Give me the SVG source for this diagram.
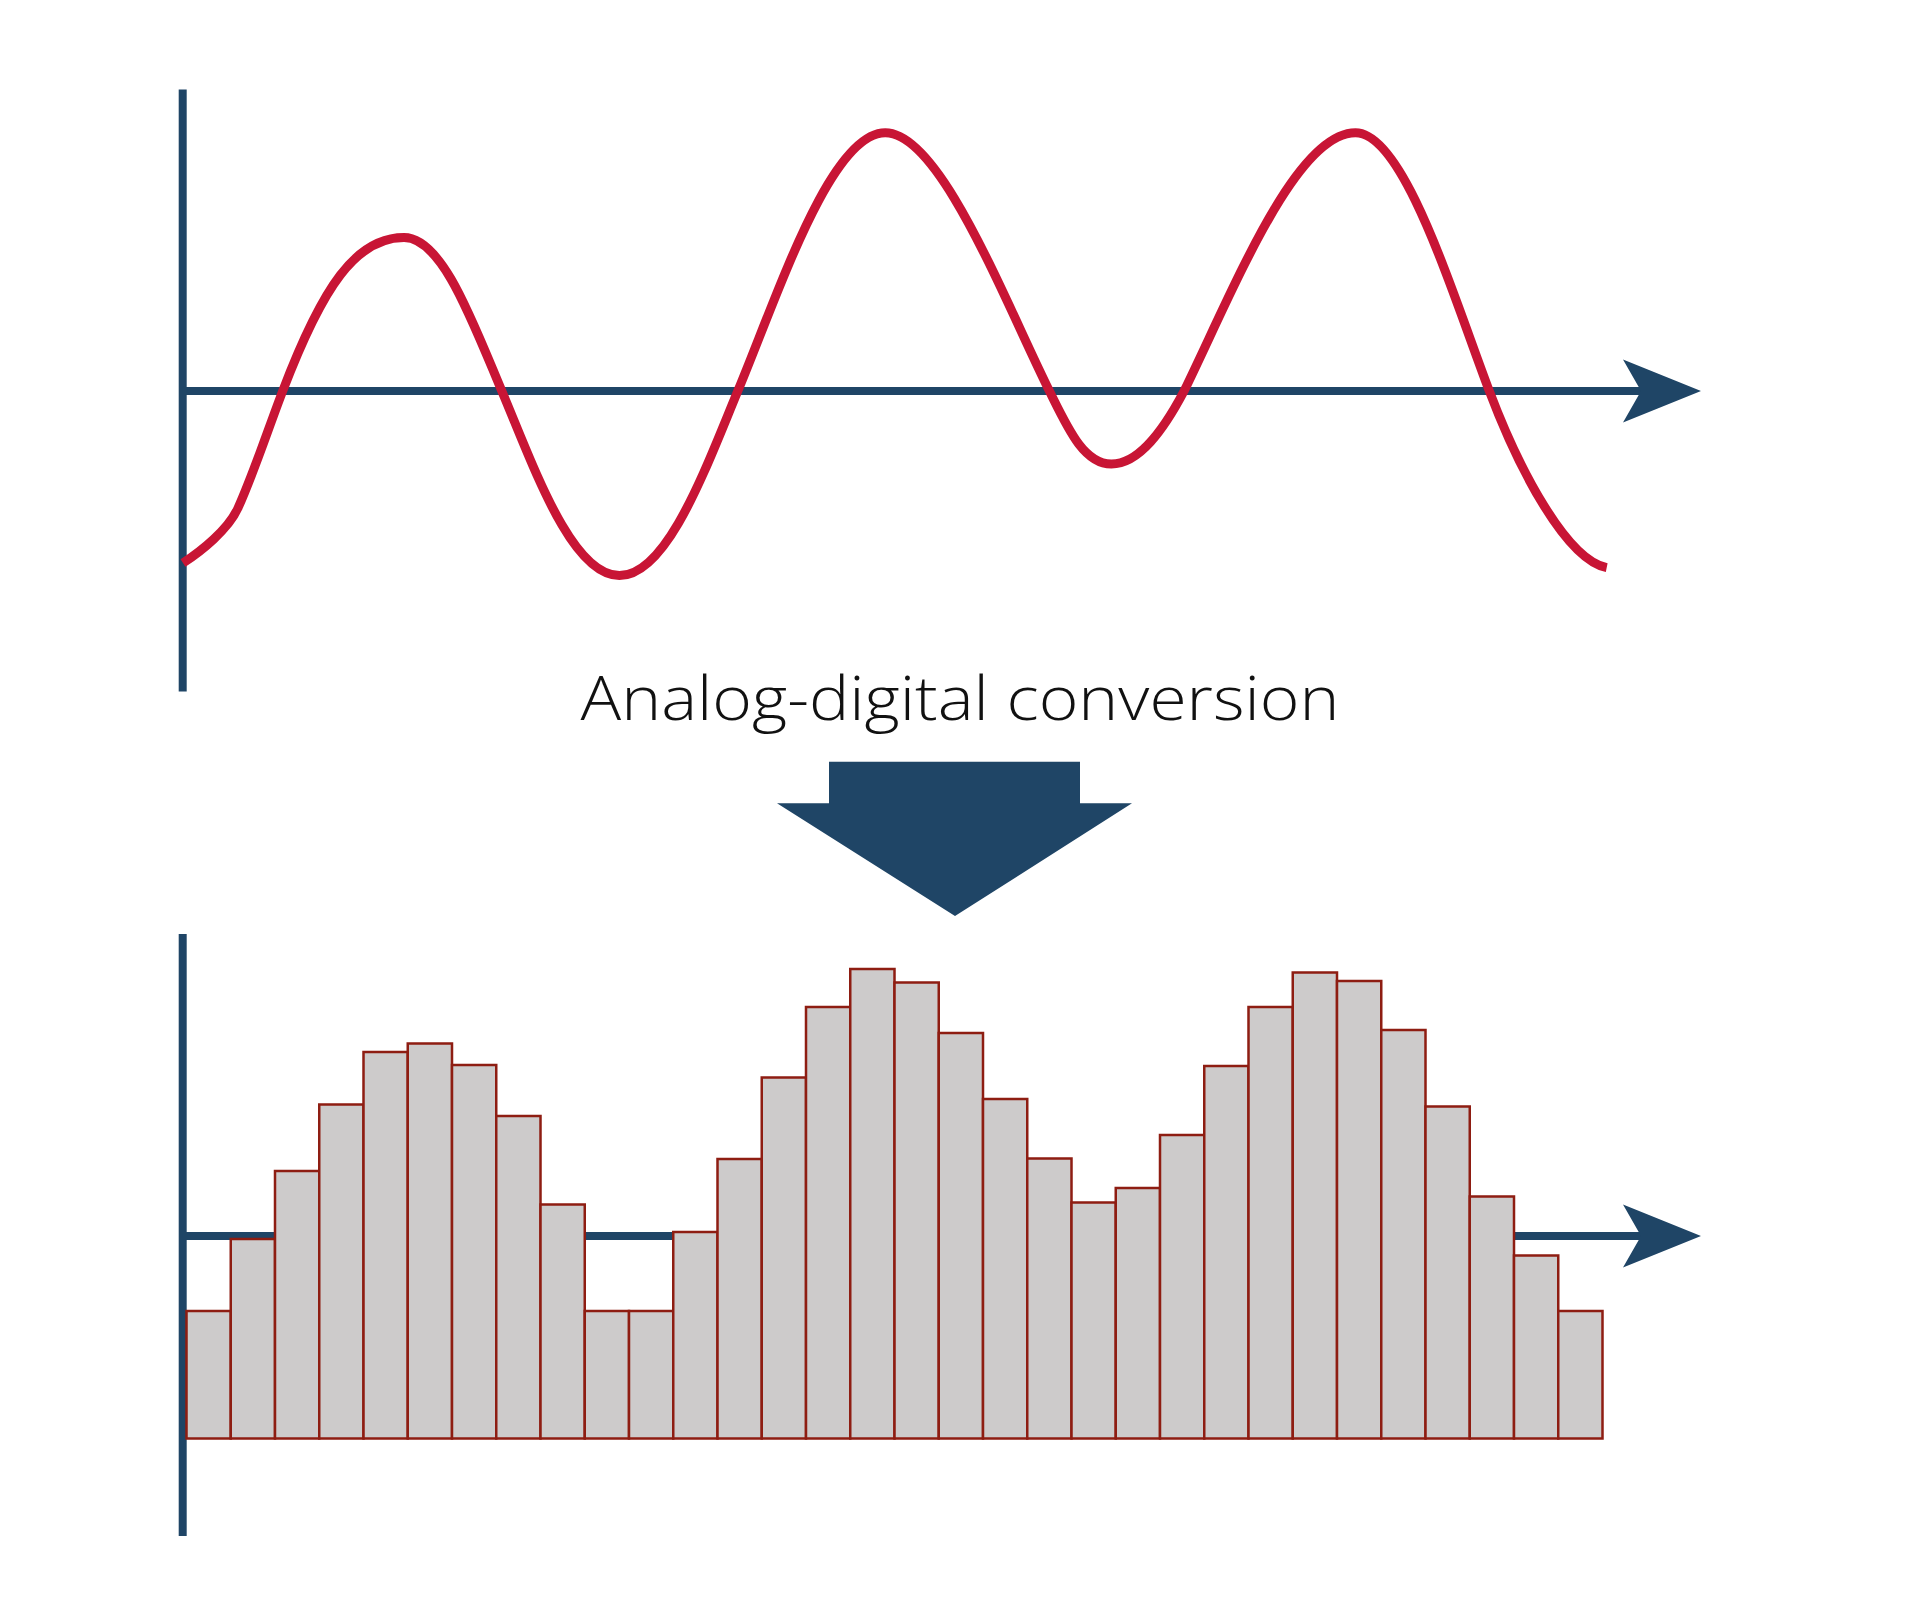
<svg xmlns="http://www.w3.org/2000/svg" width="1920" height="1604" viewBox="0 0 1920 1604">
<style>
.axis{stroke:#1F4566;stroke-width:8;fill:none}
.head{fill:#1F4566}
.wave{stroke:#C81535;stroke-width:9;fill:none;stroke-linejoin:round}
.bar{fill:#CDCBCB;stroke:#8E1D12;stroke-width:2.5}
.label{font-family:"Open Sans","Lato","Liberation Sans",sans-serif;font-weight:300;font-size:60px;fill:#111}
</style>
<rect width="1920" height="1604" fill="#FFFFFF"/>
<g id="connectors">
  <g id="top-axes">
    <line class="axis" x1="182.7" y1="89.5" x2="182.7" y2="691.5"/>
    <line class="axis" x1="182.7" y1="391" x2="1642" y2="391"/>
    <polygon class="head" points="1701,391 1623,359.5 1641,391 1623,422.5"/>
  </g>
  <g id="bottom-axes">
    <line class="axis" x1="182.7" y1="934" x2="182.7" y2="1536"/>
    <line class="axis" x1="182.7" y1="1236" x2="1642" y2="1236"/>
    <polygon class="head" points="1701,1236 1623,1204.5 1641,1236 1623,1267.5"/>
  </g>
</g>
<g id="analog-signal">
  <path class="wave" d="M183,563 C201,551.3 228,530 238,508 C253,475 267.7,430.3 282.7,391 C322.7,286.2 356,237.6 404,237.6 C442,237.6 471.8,319.9 501.8,391 C533.8,466.8 571.4,575.6 619.4,575.6 C667.4,575.6 705.8,467.8 737.8,391 C777.8,295 830.3,132.8 885.3,132.8 C940.3,132.8 1004.4,300.5 1049.4,391 C1067.4,427.2 1083.4,464 1111.4,464 C1139.4,464 1164.1,429 1184.1,391 C1234.1,288.5 1295.5,132.8 1355.5,132.8 C1403.5,132.8 1451.3,290.3 1489.3,391 C1519.3,470.5 1566.7,559.7 1606.7,567.7"/>
</g>
<g id="conversion-label">
  <text class="label" x="960" y="720" text-anchor="middle" textLength="759" lengthAdjust="spacingAndGlyphs">Analog-digital conversion</text>
</g>
<g id="conversion-arrow">
  <polygon fill="#1F4566" points="829,761.7 1080,761.7 1080,803.3 1132,803.3 955,916 777,803.3 829,803.3"/>
</g>
<g id="digital-signal">
  <rect class="bar" x="186.5" y="1311" width="44.25" height="127.5"/>
  <rect class="bar" x="230.75" y="1239" width="44.25" height="199.5"/>
  <rect class="bar" x="275" y="1171" width="44.25" height="267.5"/>
  <rect class="bar" x="319.25" y="1104.5" width="44.25" height="334"/>
  <rect class="bar" x="363.5" y="1052" width="44.25" height="386.5"/>
  <rect class="bar" x="407.75" y="1043.5" width="44.25" height="395"/>
  <rect class="bar" x="452" y="1065" width="44.25" height="373.5"/>
  <rect class="bar" x="496.25" y="1116" width="44.25" height="322.5"/>
  <rect class="bar" x="540.5" y="1204.5" width="44.25" height="234"/>
  <rect class="bar" x="584.75" y="1311" width="44.25" height="127.5"/>
  <rect class="bar" x="629" y="1311" width="44.25" height="127.5"/>
  <rect class="bar" x="673.25" y="1232" width="44.25" height="206.5"/>
  <rect class="bar" x="717.5" y="1159" width="44.25" height="279.5"/>
  <rect class="bar" x="761.75" y="1077.5" width="44.25" height="361"/>
  <rect class="bar" x="806" y="1007" width="44.25" height="431.5"/>
  <rect class="bar" x="850.25" y="969" width="44.25" height="469.5"/>
  <rect class="bar" x="894.5" y="982.5" width="44.25" height="456"/>
  <rect class="bar" x="938.75" y="1033" width="44.25" height="405.5"/>
  <rect class="bar" x="983" y="1099" width="44.25" height="339.5"/>
  <rect class="bar" x="1027.25" y="1158.5" width="44.25" height="280"/>
  <rect class="bar" x="1071.5" y="1202.5" width="44.25" height="236"/>
  <rect class="bar" x="1115.75" y="1188" width="44.25" height="250.5"/>
  <rect class="bar" x="1160" y="1135" width="44.25" height="303.5"/>
  <rect class="bar" x="1204.25" y="1066" width="44.25" height="372.5"/>
  <rect class="bar" x="1248.5" y="1007" width="44.25" height="431.5"/>
  <rect class="bar" x="1292.75" y="972.5" width="44.25" height="466"/>
  <rect class="bar" x="1337" y="981" width="44.25" height="457.5"/>
  <rect class="bar" x="1381.25" y="1030" width="44.25" height="408.5"/>
  <rect class="bar" x="1425.5" y="1106.5" width="44.25" height="332"/>
  <rect class="bar" x="1469.75" y="1196.5" width="44.25" height="242"/>
  <rect class="bar" x="1514" y="1255.5" width="44.25" height="183"/>
  <rect class="bar" x="1558.25" y="1311" width="44.25" height="127.5"/>
</g>
</svg>
